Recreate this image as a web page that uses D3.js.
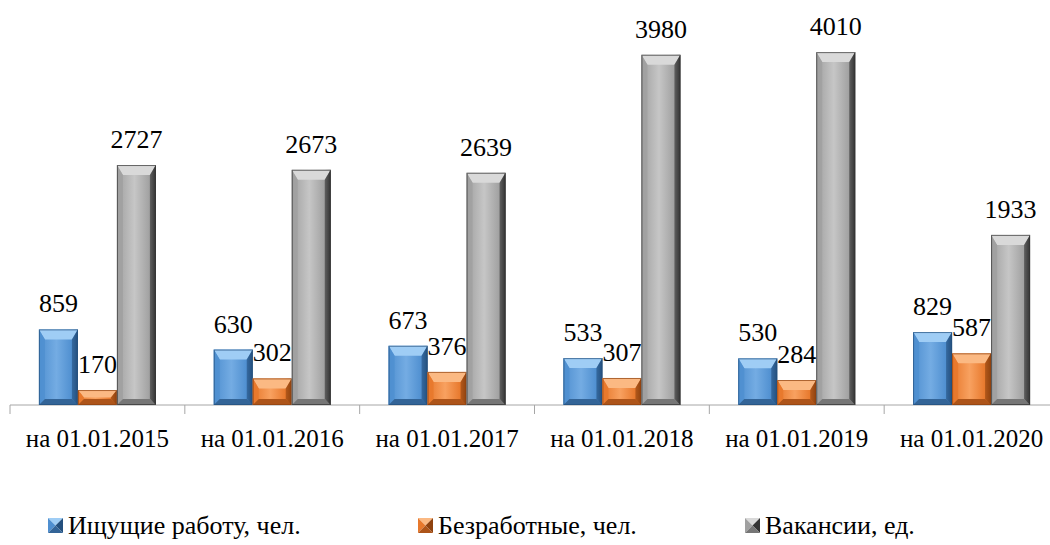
<!DOCTYPE html>
<html><head><meta charset="utf-8"><script src="https://cdn.jsdelivr.net/npm/d3@7"></script></head>
<body style="margin:0">
<script>
const categories = ["на 01.01.2015", "на 01.01.2016", "на 01.01.2017", "на 01.01.2018", "на 01.01.2019", "на 01.01.2020"];
const seriesNames = ["Ищущие работу, чел.", "Безработные, чел.", "Вакансии, ед."];
const seeking = [859, 630, 673, 533, 530, 829];
const unemployed = [170, 302, 376, 307, 284, 587];
const vacancies = [2727, 2673, 2639, 3980, 4010, 1933];

const width = 1050;
const height = 545;
const fontFam = "'Times New Roman', 'Liberation Serif', Tinos, serif";

// colours per series
const palettes = [
  { light: "#74ace3", mid: "#4f8fd0", dark: "#24507e", top: "#9fcdf5", bottom: "#336497" },
  { light: "#f8a160", mid: "#e7782c", dark: "#8f420f", top: "#fbb983", bottom: "#ad5419" },
  { light: "#c6c6c6", mid: "#a0a0a0", dark: "#333333", top: "#d9d9d9", bottom: "#767676" }
];

const svg = d3.select("body").append("svg")
  .attr("width", width)
  .attr("height", height)
  .attr("font-family", fontFam);

const defs = svg.append("defs");
palettes.forEach((p, i) => {
  const g = defs.append("linearGradient")
    .attr("id", "face" + i)
    .attr("x1", "0%").attr("x2", "100%").attr("y1", "0%").attr("y2", "0%");
  g.append("stop").attr("offset", "0%").attr("stop-color", p.mid);
  g.append("stop").attr("offset", "45%").attr("stop-color", p.light);
  g.append("stop").attr("offset", "85%").attr("stop-color", p.mid);
  g.append("stop").attr("offset", "100%").attr("stop-color", p.dark);
});

const data = categories.map((c, i) => ({
  category: c,
  values: [seeking[i], unemployed[i], vacancies[i]]
}));

const x0 = d3.scaleBand()
  .domain(categories)
  .range([10, 1059]);

const groupW = 117;
const x1 = d3.scaleBand()
  .domain(d3.range(seriesNames.length))
  .range([(x0.bandwidth() - groupW) / 2, (x0.bandwidth() + groupW) / 2]);

const y = d3.scaleLinear()
  .domain([0, 4500])
  .range([405, 9]);

// axis line and ticks
svg.append("line")
  .attr("x1", x0.range()[0]).attr("x2", x0.range()[1])
  .attr("y1", y(0)).attr("y2", y(0))
  .attr("stroke", "#a6a6a6").attr("stroke-width", 1);
svg.selectAll(".tick")
  .data(categories.concat(["end"]))
  .enter().append("line")
  .attr("class", "tick")
  .attr("x1", (d, i) => x0.range()[0] + i * x0.step())
  .attr("x2", (d, i) => x0.range()[0] + i * x0.step())
  .attr("y1", y(0)).attr("y2", y(0) + 9)
  .attr("stroke", "#a6a6a6");

function bevelBar(g, x, yTop, w, h, p, idx) {
  const bt = Math.min(10, h / 2), bs = Math.min(6, w / 2, h / 2), bb = Math.min(6, h / 2);
  const x2 = x + w, y2 = yTop + h;
  g.append("rect")
    .attr("x", x).attr("y", yTop).attr("width", w).attr("height", h)
    .attr("fill", "url(#face" + idx + ")");
  // top bevel
  g.append("polygon")
    .attr("points", [[x, yTop], [x2, yTop], [x2 - bs, yTop + bt], [x + bs, yTop + bt]].join(" "))
    .attr("fill", p.top);
  // left bevel
  g.append("polygon")
    .attr("points", [[x, yTop], [x + bs, yTop + bt], [x + bs, y2 - bb], [x, y2]].join(" "))
    .attr("fill", p.mid).attr("opacity", 0.85);
  // right bevel
  g.append("polygon")
    .attr("points", [[x2, yTop], [x2 - bs, yTop + bt], [x2 - bs, y2 - bb], [x2, y2]].join(" "))
    .attr("fill", p.dark).attr("opacity", 0.6);
  // bottom bevel
  g.append("polygon")
    .attr("points", [[x, y2], [x + bs, y2 - bb], [x2 - bs, y2 - bb], [x2, y2]].join(" "))
    .attr("fill", p.bottom);
  g.append("rect")
    .attr("x", x + 0.5).attr("y", yTop + 0.5).attr("width", w - 1).attr("height", Math.max(0, h - 1))
    .attr("fill", "none").attr("stroke", p.dark).attr("stroke-width", 1).attr("opacity", 0.7);
}

const groups = svg.selectAll(".group")
  .data(data)
  .enter().append("g")
  .attr("class", "group")
  .attr("transform", d => `translate(${x0(d.category)},0)`);

groups.each(function(d) {
  const g = d3.select(this);
  d.values.forEach((v, i) => {
    bevelBar(g, x1(i), y(v), x1.bandwidth(), y(0) - y(v), palettes[i], i);
  });
});

// value labels
const labels = [];
data.forEach(d => d.values.forEach((v, i) => labels.push({ category: d.category, s: i, v: v })));
svg.selectAll(".val")
  .data(labels)
  .enter().append("text")
  .attr("class", "val")
  .attr("x", d => x0(d.category) + x1(d.s) + x1.bandwidth() / 2)
  .attr("y", d => y(d.v) - 17)
  .attr("text-anchor", "middle")
  .attr("font-size", 26)
  .attr("font-family", fontFam)
  .attr("style", "font-family: " + fontFam)
  .text(d => d.v);

// category labels
svg.selectAll(".cat-label")
  .data(categories)
  .enter().append("text")
  .attr("class", "cat-label")
  .attr("x", d => x0(d) + x0.bandwidth() / 2)
  .attr("y", 447)
  .attr("text-anchor", "middle")
  .attr("font-size", 25)
  .attr("font-family", fontFam)
  .attr("style", "font-family: " + fontFam)
  .text(d => d);

// legend
const legendX = [48, 418, 745];
const legend = svg.selectAll(".legend")
  .data(seriesNames)
  .enter().append("g")
  .attr("class", "legend")
  .attr("transform", (d, i) => `translate(${legendX[i]},518)`);

legend.each(function(d, i) {
  const g = d3.select(this);
  const p = palettes[i];
  const s = 15, c = s / 2;
  g.append("polygon").attr("points", [[0, 0], [s, 0], [c, c]].join(" ")).attr("fill", p.top);
  g.append("polygon").attr("points", [[0, 0], [0, s], [c, c]].join(" ")).attr("fill", p.mid);
  g.append("polygon").attr("points", [[s, 0], [s, s], [c, c]].join(" ")).attr("fill", p.dark);
  g.append("polygon").attr("points", [[0, s], [s, s], [c, c]].join(" ")).attr("fill", p.bottom);
});
legend.append("text")
  .attr("x", 20)
  .attr("y", 16)
  .attr("font-size", 26)
  .attr("font-family", fontFam)
  .attr("style", "font-family: " + fontFam)
  .text(d => d);
</script>
</body></html>
